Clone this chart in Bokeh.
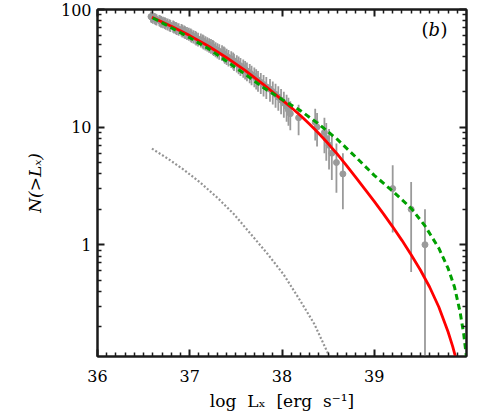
import numpy as np
from bokeh.plotting import figure
from bokeh.models import Range1d, FixedTicker, LinearAxis, LogAxis, Label, ColumnDataSource, CustomJSTickFormatter
from bokeh.embed import file_html
from bokeh.resources import INLINE

# ---------------- data ----------------
# cumulative number of sources N(>Lx) and the luminosity of each source (log erg/s)
n_cum = list(range(87, 0, -1))
log_lx = [36.58, 36.59, 36.60, 36.62, 36.63, 36.64, 36.67, 36.68, 36.69, 36.71,
          36.73, 36.74, 36.76, 36.78, 36.79, 36.82, 36.83, 36.85, 36.86, 36.88,
          36.91, 36.92, 36.94, 36.95, 36.97, 36.99, 37.01, 37.02, 37.04, 37.06,
          37.07, 37.09, 37.12, 37.14, 37.15, 37.17, 37.19, 37.21, 37.23, 37.25,
          37.26, 37.28, 37.30, 37.32, 37.35, 37.37, 37.38, 37.40, 37.42, 37.45,
          37.47, 37.48, 37.51, 37.53, 37.55, 37.58, 37.60, 37.62, 37.65, 37.67,
          37.70, 37.72, 37.74, 37.77, 37.80, 37.83, 37.87, 37.90, 37.93, 37.96,
          37.99, 38.02, 38.05, 38.07, 38.09, 38.18, 38.36, 38.38, 38.46, 38.48,
          38.51, 38.54, 38.59, 38.66, 39.20, 39.40, 39.55]

# model 1 (red solid)
red_logL = [36.59, 36.80, 37.00, 37.20, 37.40, 37.60, 37.80, 38.00, 38.10, 38.20,
            38.30, 38.40, 38.50, 38.60, 38.70, 38.80, 38.90, 39.00, 39.10, 39.20,
            39.30, 39.40, 39.50, 39.60, 39.70, 39.80, 39.85, 39.90]
red_logN = [1.934, 1.858, 1.778, 1.690, 1.590, 1.483, 1.362, 1.232, 1.167, 1.098,
            1.024, 0.945, 0.860, 0.770, 0.672, 0.572, 0.470, 0.368, 0.262, 0.152,
            0.037, -0.085, -0.215, -0.360, -0.530, -0.740, -0.865, -1.010]

# model 2 (green dashed)
green_logL = [36.60, 36.80, 37.00, 37.20, 37.40, 37.60, 37.80, 38.00, 38.20, 38.40,
              38.60, 38.80, 39.00, 39.20, 39.40, 39.55, 39.70, 39.80, 39.87, 39.93,
              39.97, 40.00]
green_logN = [1.928, 1.845, 1.760, 1.668, 1.560, 1.450, 1.335, 1.235, 1.140, 1.025,
              0.895, 0.745, 0.590, 0.455, 0.310, 0.160, -0.030, -0.200, -0.360, -0.570,
              -0.760, -0.960]

# model component (gray dotted)
dot_logL = [36.59, 36.76, 36.94, 37.12, 37.30, 37.48, 37.66, 37.84, 38.02, 38.20,
            38.35, 38.49, 38.52]
dot_logN = [0.817, 0.733, 0.635, 0.524, 0.399, 0.259, 0.092, -0.075, -0.256, -0.479,
            -0.674, -0.911, -0.960]

x_ticks = [36, 37, 38, 39]
x_tick_labels = ["36", "37", "38", "39"]
y_ticks = [1, 10, 100]
y_tick_labels = ["1", "10", "100"]

x_title = "log\u00a0\u00a0L\u2093\u00a0\u00a0[erg\u00a0\u00a0s\u207b\u00b9]"
y_title = "N(>L\u2093)"

# ---------------- derived ----------------
N = np.array(n_cum, dtype=float)
err = np.sqrt(N)
src = ColumnDataSource(dict(x=log_lx, y=N, lo=np.maximum(N - err, 1e-3), hi=N + err))

FONT = "DejaVu Serif"
INK = "#1a1a1a"
GRAY = "#9a9a9a"

p = figure(width=484, height=418, x_range=Range1d(36, 40), y_range=Range1d(0.112, 100),
           y_axis_type="log", output_backend="svg", toolbar_location=None,
           min_border_left=97, min_border_right=18, min_border_top=9, min_border_bottom=62)
p.background_fill_color = "white"
p.border_fill_color = "white"
p.outline_line_color = INK
p.outline_line_width = 2
p.grid.visible = False

x_minor = [round(36 + 0.1 * i, 1) for i in range(1, 40) if i % 10 != 0]
y_minor = [m * d for d in (0.1, 1, 10) for m in range(2, 10)]
xt = FixedTicker(ticks=x_ticks, minor_ticks=x_minor)
yt = FixedTicker(ticks=y_ticks, minor_ticks=y_minor)

def style(ax):
    ax.axis_line_color = INK
    ax.axis_line_width = 2
    ax.major_tick_in = 7
    ax.major_tick_out = 0
    ax.minor_tick_in = 4
    ax.minor_tick_out = 0
    ax.major_tick_line_color = INK
    ax.minor_tick_line_color = INK
    ax.major_tick_line_width = 2
    ax.minor_tick_line_width = 1.5
    ax.major_label_text_font = FONT
    ax.major_label_text_font_size = "16px"
    ax.major_label_text_color = "black"
    ax.axis_label_text_font = FONT
    ax.axis_label_text_font_size = "17px"
    ax.axis_label_text_color = "black"

xa = p.xaxis[0]
xa.ticker = xt
xa.major_label_overrides = dict(zip(x_ticks, x_tick_labels))
style(xa)
xa.major_label_standoff = 13
xa.axis_label = x_title
xa.axis_label_text_font_style = "normal"
xa.axis_label_standoff = 6

ya = p.yaxis[0]
ya.ticker = yt
ya.major_label_overrides = dict(zip(y_ticks, y_tick_labels))
style(ya)
ya.major_label_standoff = 6
ya.axis_label = y_title
ya.axis_label_text_font_style = "italic"
ya.axis_label_standoff = 13

blank = CustomJSTickFormatter(code="return ''")
top = LinearAxis(ticker=xt, formatter=blank)
style(top)
top.major_label_text_font_size = "0px"
top.major_label_standoff = 0
p.add_layout(top, "above")
right = LogAxis(ticker=yt, formatter=blank)
style(right)
right.major_label_text_font_size = "0px"
right.major_label_standoff = 0
p.add_layout(right, "right")

# ---------------- glyphs ----------------
p.segment(x0="x", y0="lo", x1="x", y1="hi", source=src, line_color=GRAY, line_width=1.8)
p.scatter(x="x", y="y", source=src, size=6, fill_color=GRAY, line_color=GRAY)
p.line(dot_logL, np.power(10.0, dot_logN), line_color="#949494", line_width=2.2, line_dash="2 2")
p.line(red_logL, np.power(10.0, red_logN), line_color="#ff0000", line_width=2.8)
p.line(green_logL, np.power(10.0, green_logN), line_color="#00a000", line_width=3, line_dash="6 4")

# ---------------- panel tag (b) ----------------
FL, FB = 97, 356  # frame left / bottom in page pixels

def txt(t, px, py, size=18, italic=False):
    p.add_layout(Label(x=px - FL, y=FB - py, x_units="screen", y_units="screen", text=t,
                       text_font=FONT, text_font_size=f"{size}px",
                       text_font_style="italic" if italic else "normal",
                       text_color="black", text_align="left", text_baseline="alphabetic"))

txt("(", 421, 29)
txt("b", 428, 29, italic=True)
txt(")", 440, 29)

open("out.html", "w").write(file_html(p, INLINE))
